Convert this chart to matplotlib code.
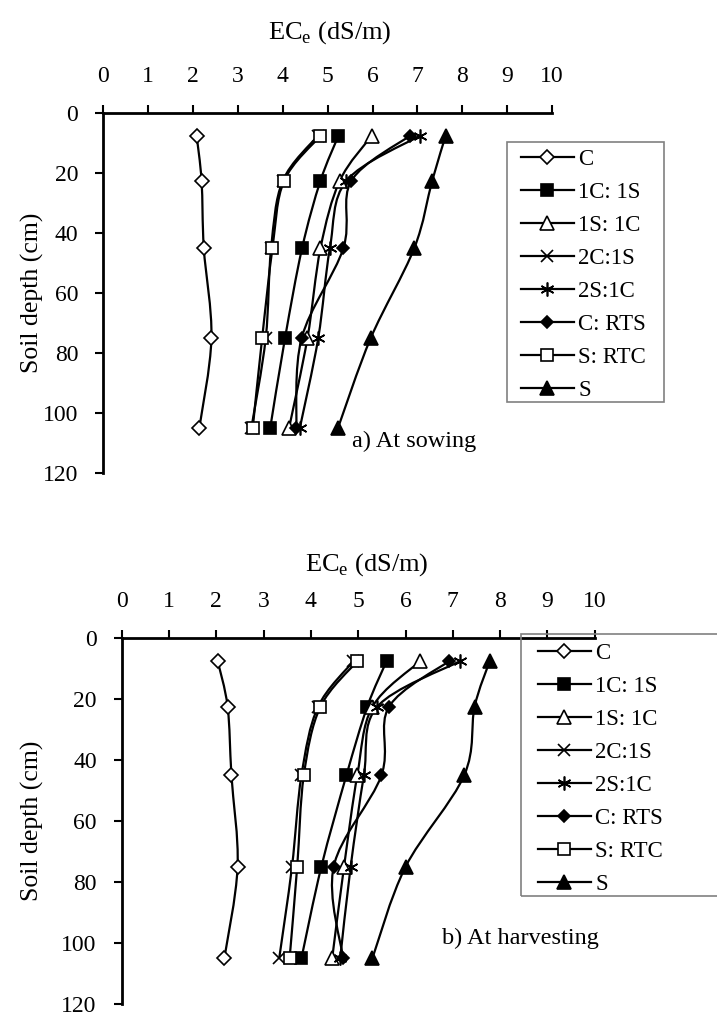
import matplotlib
matplotlib.use('Agg')
import matplotlib.pyplot as plt
from matplotlib.path import Path
from matplotlib.patches import PathPatch, Rectangle
from matplotlib.lines import Line2D
import numpy as np

plt.rcParams['font.family'] = ['Liberation Serif', 'DejaVu Serif']
plt.rcParams['mathtext.fontset'] = 'custom'
plt.rcParams['mathtext.rm'] = 'Liberation Serif'

W, H = 717, 1016

# depths (cm) and series names
depth = [7.5, 22.5, 45, 75, 105]
names = ['C', '1C: 1S', '1S: 1C', '2C:1S', '2S:1C', 'C: RTS', 'S: RTC', 'S']

# a) at sowing, ECe (dS/m)
sow_c = [2.08, 2.19, 2.24, 2.41, 2.14]
sow_1c1s = [5.24, 4.84, 4.43, 4.05, 3.72]
sow_1s1c = [5.98, 5.27, 4.84, 4.55, 4.14]
sow_2c1s = [4.78, 4.00, 3.74, 3.62, 3.30]
sow_2s1c = [7.05, 5.42, 5.05, 4.79, 4.38]
sow_crts = [6.83, 5.53, 5.35, 4.42, 4.30]
sow_srtc = [4.84, 4.03, 3.77, 3.54, 3.33]
sow_s = [7.63, 7.33, 6.93, 5.96, 5.23]

# b) at harvesting, ECe (dS/m)
har_c = [2.03, 2.24, 2.32, 2.45, 2.17]
har_1c1s = [5.60, 5.19, 4.75, 4.22, 3.80]
har_1s1c = [6.31, 5.30, 4.98, 4.70, 4.45]
har_2c1s = [4.90, 4.15, 3.80, 3.60, 3.33]
har_2s1c = [7.15, 5.40, 5.12, 4.84, 4.62]
har_crts = [6.92, 5.65, 5.49, 4.48, 4.68]
har_srtc = [4.98, 4.20, 3.85, 3.71, 3.55]
har_s = [7.78, 7.46, 7.24, 6.00, 5.30]

sowing = [sow_c, sow_1c1s, sow_1s1c, sow_2c1s, sow_2s1c, sow_crts, sow_srtc, sow_s]
harvest = [har_c, har_1c1s, har_1s1c, har_2c1s, har_2s1c, har_crts, har_srtc, har_s]

# marker, size, face colour
styles = [('D', 7, 'white'), ('s', 9, 'black'), ('^', 10, 'white'), ('x', 9, 'none'),
          ((6, 2, 0), 10, 'none'), ('D', 6.5, 'black'), ('s', 9, 'white'), ('^', 10, 'black')]


def smooth_path(xs, ys):
    pts = np.column_stack([xs, ys])
    n = len(pts)
    verts = [pts[0]]
    codes = [Path.MOVETO]
    for i in range(n - 1):
        p0 = pts[max(i - 1, 0)]
        p1 = pts[i]
        p2 = pts[i + 1]
        p3 = pts[min(i + 2, n - 1)]
        verts += [p1 + (p2 - p0) / 6, p2 - (p3 - p1) / 6, p2]
        codes += [Path.CURVE4] * 3
    return Path(verts, codes)


def px_rect(l, t, r, b):
    return [l / W, 1 - b / H, (r - l) / W, (b - t) / H]


def fx(x):
    return x / W


def fy(y):
    return 1 - y / H


def panel(ax, data, leg_anchor, box, note, note_xy, title_xy, ylab_xy):
    for vals, (m, ms, fc) in zip(data, styles):
        ax.add_patch(PathPatch(smooth_path(vals, depth), facecolor='none',
                               edgecolor='black', lw=1.6, zorder=2))
        ax.plot(vals, depth, ls='none', marker=m, ms=ms, mfc=fc, mec='black',
                mew=1.2, zorder=3)
    ax.set_xlim(0, 10)
    ax.set_ylim(120, 0)
    ax.set_xticks(range(0, 11))
    ax.set_yticks(range(0, 121, 20))
    ax.xaxis.tick_top()
    for s in ['right', 'bottom']:
        ax.spines[s].set_visible(False)
    for s in ['left', 'top']:
        ax.spines[s].set_linewidth(2)
    ax.tick_params(axis='x', direction='out', length=6, width=1.5, pad=13, labelsize=17)
    ax.tick_params(axis='y', direction='out', length=6, width=1.5, pad=12, labelsize=17)

    handles = [Line2D([], [], color='black', lw=1.6, marker=m, ms=ms, mfc=fc,
                      mec='black', mew=1.2) for (m, ms, fc) in styles]
    ax.legend(handles, names, loc='upper left',
              bbox_to_anchor=(fx(leg_anchor[0]), fy(leg_anchor[1])),
              bbox_transform=fig.transFigure, fontsize=16.5, frameon=False,
              borderaxespad=0, borderpad=0, handlelength=2.3,
              handletextpad=0.2, labelspacing=0.52)
    l, t, r, b = box
    fig.patches.append(Rectangle((fx(l), fy(b)), (r - l) / W, (b - t) / H,
                                 transform=fig.transFigure, fill=False,
                                 ec='#808080', lw=1.2))
    fig.text(fx(note_xy[0]), fy(note_xy[1]), note, fontsize=17.5, va='center')
    fig.text(fx(title_xy[0]), fy(title_xy[1]), r'EC$_{\rm e}$ (dS/m)',
             fontsize=19, ha='center', va='center')
    fig.text(fx(ylab_xy[0]), fy(ylab_xy[1]), 'Soil depth (cm)', fontsize=18.5,
             rotation=90, ha='center', va='center')


fig = plt.figure(figsize=(W / 100, H / 100), dpi=100)
ax1 = fig.add_axes(px_rect(103.3, 113.3, 552, 473))
ax2 = fig.add_axes(px_rect(121.7, 638.3, 594.7, 1004))

panel(ax1, sowing, (521, 149), (506.7, 141.7, 664.3, 401.7), 'a) At sowing',
      (352, 441), (330, 33), (32, 293))
panel(ax2, harvest, (538, 643), (521, 634, 740, 896), 'b) At harvesting',
      (442, 938), (367, 565), (32, 821))

fig.savefig('out.png', dpi=100)
